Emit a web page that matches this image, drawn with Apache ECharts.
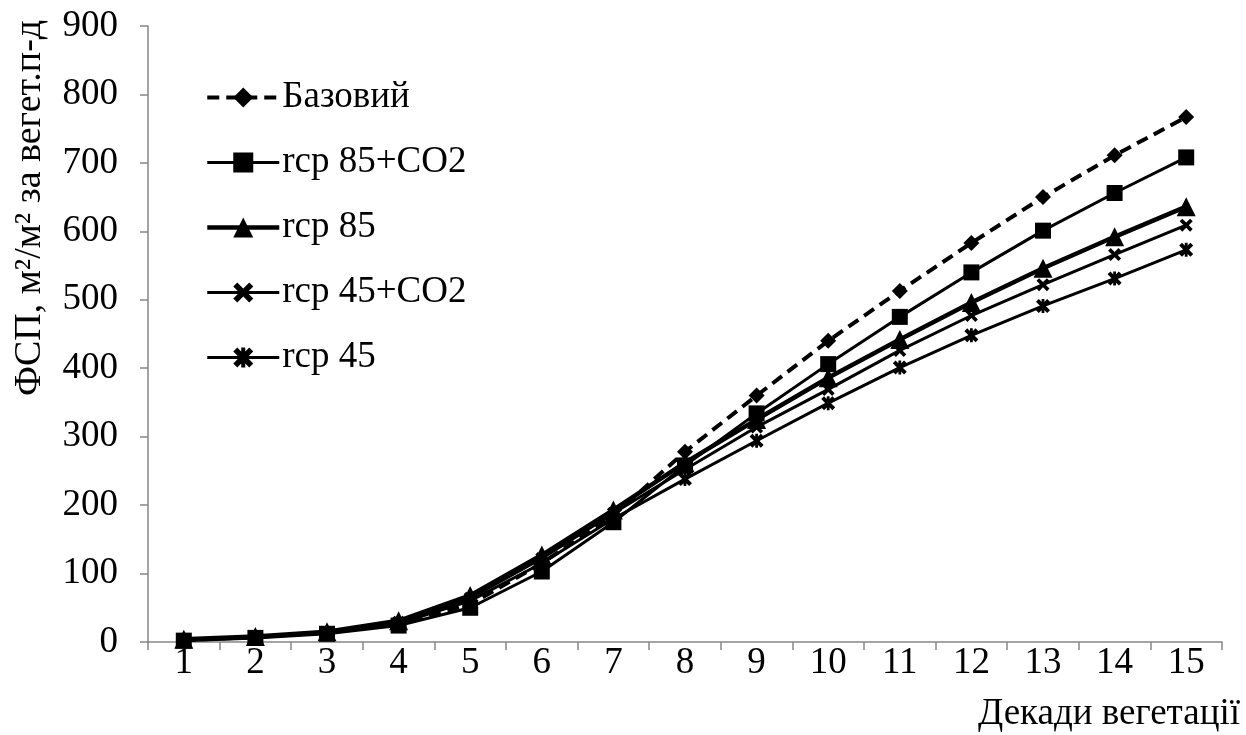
<!DOCTYPE html>
<html>
<head>
<meta charset="utf-8">
<script src="https://cdn.jsdelivr.net/npm/echarts@6/dist/echarts.min.js"></script>
<style>
	html, body { margin: 0; padding: 0; background: #fff; }
	#chart { width: 1246px; height: 735px; }
</style>
</head>
<body>
<div id="chart"></div>
<script>
// декади вегетації
var decades = ['1', '2', '3', '4', '5', '6', '7', '8', '9', '10', '11', '12', '13', '14', '15'];

var bazovyi = [3, 7, 14, 28, 55, 115, 185, 278, 360, 440, 513, 583, 650, 711, 767];
var rcp85co2 = [2, 6, 12, 24, 50, 103, 175, 258, 334, 406, 475, 540, 601, 656, 708];
var rcp85 = [4, 8, 15, 31, 68, 127, 193, 262, 325, 386, 442, 496, 546, 592, 636];
var rcp45co2 = [3, 7, 14, 29, 64, 122, 188, 252, 314, 369, 426, 477, 522, 566, 609];
var rcp45 = [3, 7, 13, 27, 60, 115, 180, 238, 294, 349, 401, 448, 491, 531, 573];

var seriesNames = ['Базовий', 'rcp 85+CO2', 'rcp 85', 'rcp 45+CO2', 'rcp 45'];
var yTicks = [0, 100, 200, 300, 400, 500, 600, 700, 800, 900];

var font = '"Liberation Serif", "Times New Roman", serif';
var xMark = 'path://M2,0 L5,3 L8,0 L10,2 L7,5 L10,8 L8,10 L5,7 L2,10 L0,8 L3,5 L0,2 Z';
var starMark = 'path://M2,0 L5,3 L8,0 L10,2 L7,5 L10,8 L8,10 L5,7 L2,10 L0,8 L3,5 L0,2 Z M4,0 L6,0 L6,10 L4,10 Z';

var myChart = echarts.init(document.getElementById('chart'));

function line(name, data, symbol, size, width, type) {
	return {
		name: name,
		type: 'line',
		data: data,
		symbol: symbol,
		symbolSize: size,
		showSymbol: true,
		animation: false,
		color: '#000',
		itemStyle: { color: '#000' },
		lineStyle: { color: '#000', width: width, type: type || 'solid' }
	};
}

var option = {
	backgroundColor: '#fff',
	animation: false,
	grid: { left: 148, right: 24, top: 26, bottom: 93 },
	legend: {
		orient: 'vertical',
		left: 200,
		top: 74,
		itemWidth: 72,
		itemHeight: 25,
		itemGap: 28,
		data: seriesNames,
		lineStyle: { width: 'inherit' },
		textStyle: { fontFamily: font, fontSize: 37, color: '#000', padding: [0, 0, 0, -2] }
	},
	xAxis: {
		type: 'category',
		data: decades,
		boundaryGap: true,
		axisLine: { lineStyle: { color: '#868686', width: 1.5 } },
		axisTick: { show: true, length: 8, lineStyle: { color: '#868686', width: 1.5 } },
		axisLabel: { fontFamily: font, fontSize: 37, color: '#000', margin: 3 },
		splitLine: { show: false }
	},
	yAxis: {
		type: 'value',
		min: 0,
		max: 900,
		interval: 100,
		axisLine: { show: true, lineStyle: { color: '#868686', width: 1.5 } },
		axisTick: { show: true, length: 8, lineStyle: { color: '#868686', width: 1.5 } },
		axisLabel: {
			fontFamily: font, fontSize: 37, color: '#000', margin: 30,
			formatter: function(v) { return yTicks.indexOf(v) >= 0 ? String(v) : ''; }
		},
		splitLine: { show: false }
	},
	graphic: [{
		type: 'text',
		x: 30,
		y: 208,
		rotation: Math.PI / 2,
		style: {
			text: 'ФСП, м²/м² за вегет.п-д',
			font: '38px ' + font,
			fill: '#000',
			align: 'center',
			verticalAlign: 'middle'
		}
	}, {
		type: 'text',
		x: 1240,
		y: 714,
		style: {
			text: 'Декади вегетації',
			font: '37px ' + font,
			fill: '#000',
			align: 'right',
			verticalAlign: 'middle'
		}
	}],
	series: [
		line(seriesNames[0], bazovyi, 'diamond', 16, 4, [12, 7]),
		line(seriesNames[1], rcp85co2, 'rect', 16, 3),
		line(seriesNames[2], rcp85, 'triangle', 19, 4.5),
		line(seriesNames[3], rcp45co2, xMark, 13, 3),
		line(seriesNames[4], rcp45, starMark, 14, 3)
	]
};

myChart.setOption(option);
window.addEventListener('resize', function() {
	myChart.resize();
});
</script>
</body>
</html>
